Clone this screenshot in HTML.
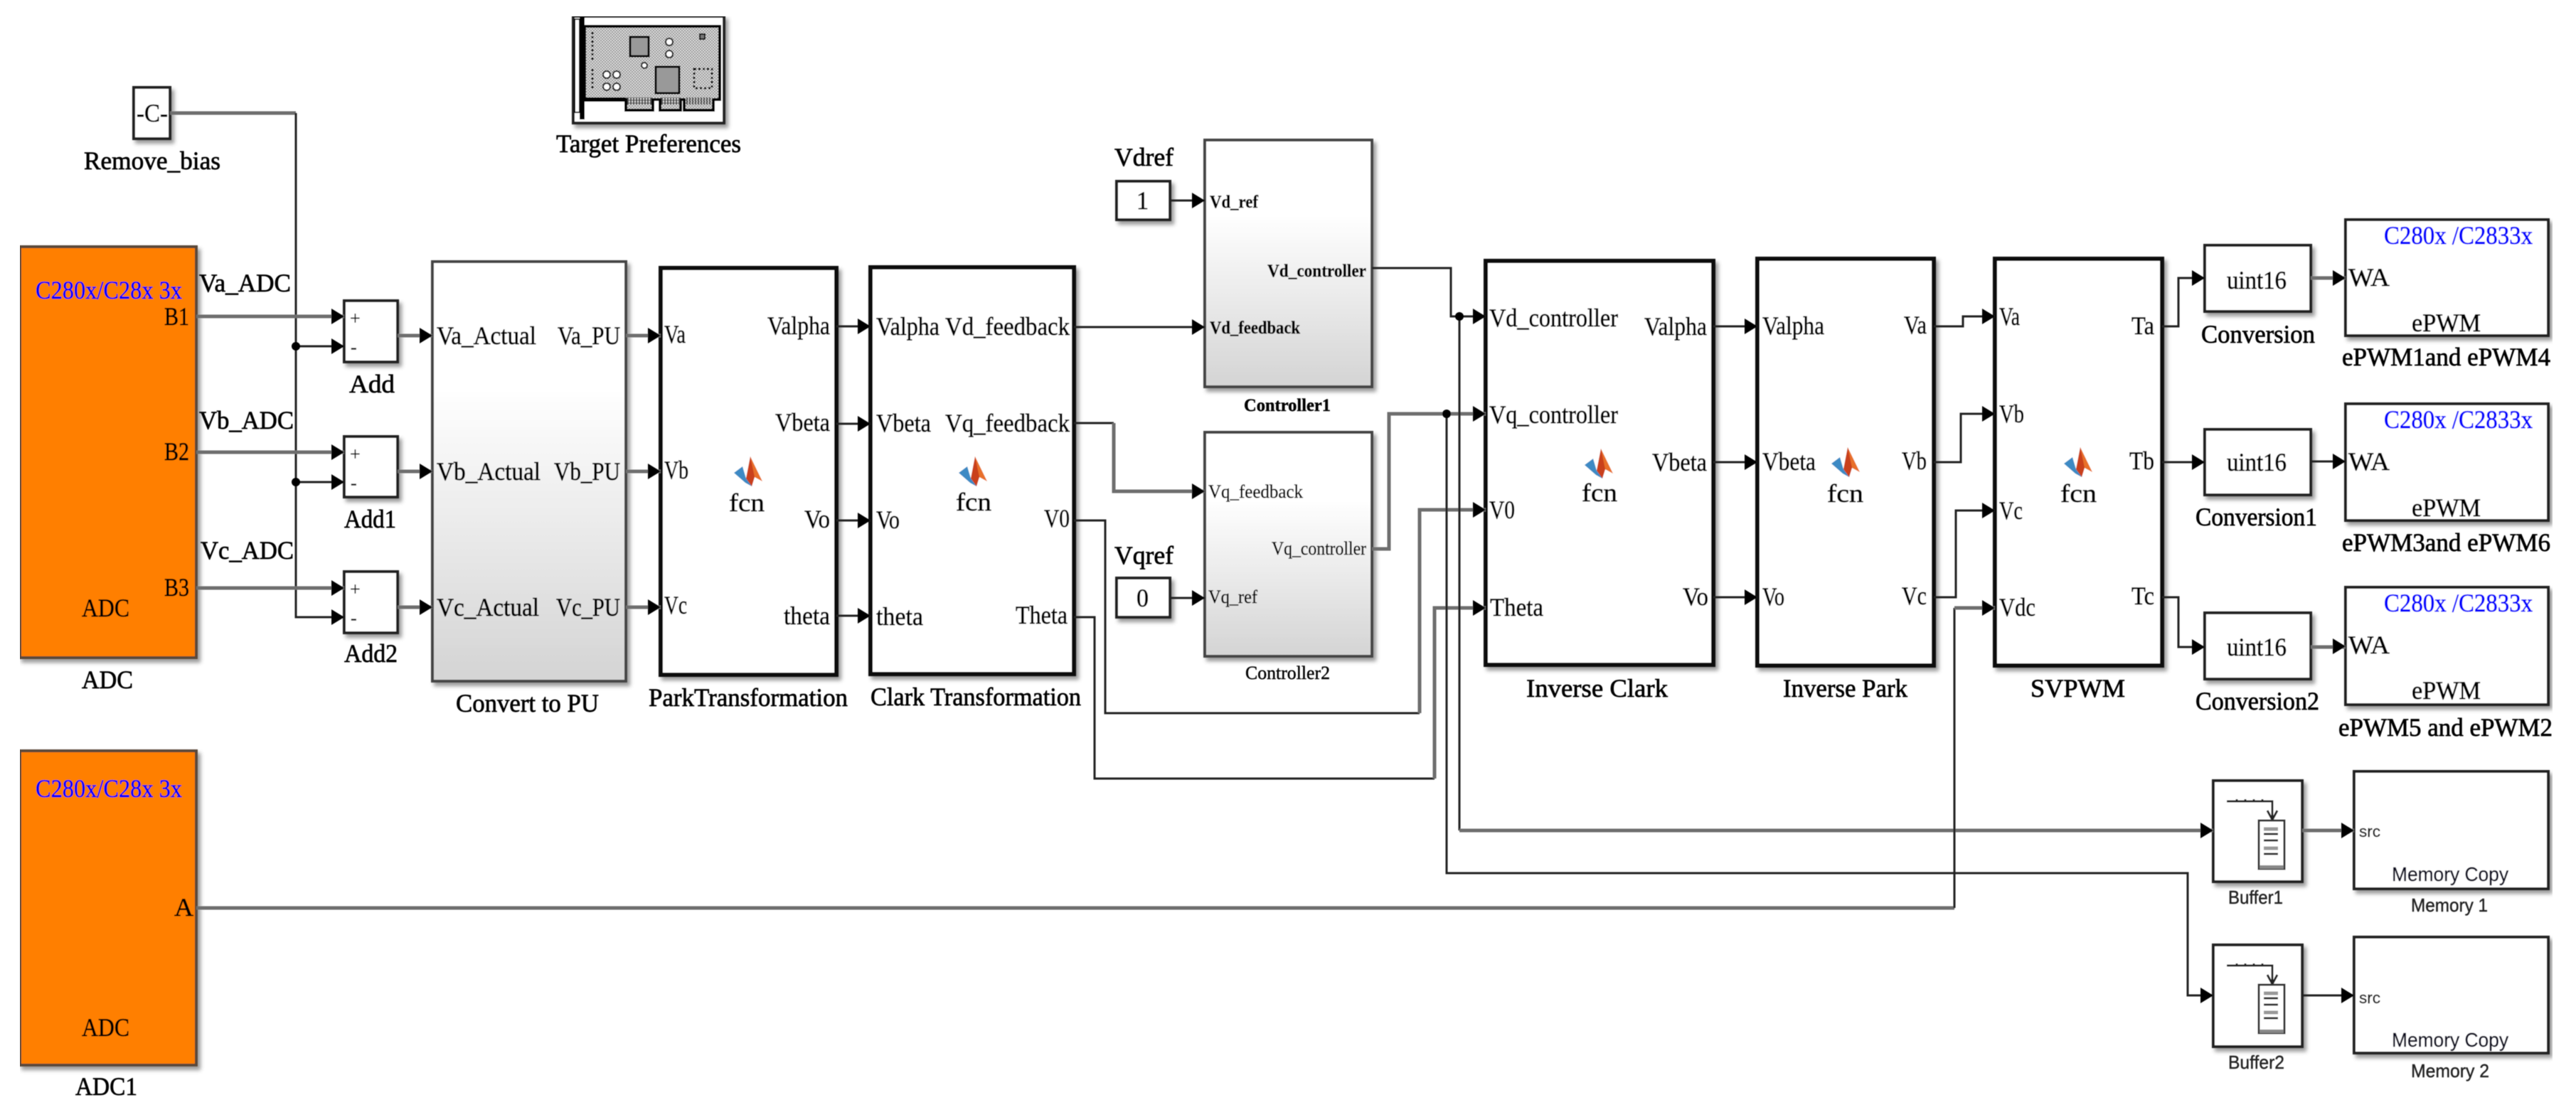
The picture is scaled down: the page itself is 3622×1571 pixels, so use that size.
<!DOCTYPE html>
<html><head><meta charset="utf-8"><style>
html,body{margin:0;padding:0;background:#fff}
svg{display:block}
text{font-family:"Liberation Serif",serif;font-size:36px;fill:#000;stroke:#000;stroke-width:.7px}
.b{fill:#0000ff;stroke:#0000ff}
.s{font-size:26px;stroke-width:.4px}
.sb{font-size:25px;font-weight:bold;stroke-width:.4px}
.h{font-family:"Liberation Sans",sans-serif;font-size:26px;fill:#222;stroke:#222;stroke-width:.4px}
.m{font-family:"Liberation Sans",sans-serif;font-size:28px;fill:#112;stroke:#112;stroke-width:.4px}
.t{fill:none;stroke:#222;stroke-width:3}
.g{fill:none;stroke:#6e6e6e;stroke-width:5}
.w{fill:#fff;stroke:#222;stroke-width:4}
.k{fill:#fff;stroke:#111;stroke-width:6}
.o{fill:#ff7f00;stroke:#5a4a3a;stroke-width:4}
.c{fill:url(#grad);stroke:#444;stroke-width:4}
</style></head><body>
<svg xmlns="http://www.w3.org/2000/svg" width="3622" height="1571" viewBox="0 0 3622 1571">
<defs>
<linearGradient id="grad" x1="0" y1="0" x2="0" y2="1"><stop offset="0" stop-color="#fff"/><stop offset=".3" stop-color="#fff"/><stop offset="1" stop-color="#d4d4d4"/></linearGradient>
<filter id="sh" x="-10%" y="-10%" width="125%" height="125%"><feDropShadow dx="4" dy="5" stdDeviation="3" flood-color="#000" flood-opacity=".4"/></filter>
<filter id="bl" x="0" y="0" width="100%" height="100%"><feGaussianBlur stdDeviation="0.6"/></filter>
<pattern id="chk" width="4" height="4" patternUnits="userSpaceOnUse"><rect width="4" height="4" fill="#e4e4e4"/><rect width="2" height="2" fill="#8c8c8c"/><rect x="2" y="2" width="2" height="2" fill="#8c8c8c"/></pattern>
<path id="a" d="M-18,-11 L0,0 L-18,11 Z" fill="#000"/>
<g id="ml"><path d="M3,-21 L20,14 L9,8 L5,21 L-3,10 Z" fill="#e8702a"/><path d="M3,-21 L-3,10 L5,21 L9,8 Z" fill="#c9401f"/><path d="M-20,2 L-8,-7 L-3,10 L5,21 L-4,16 Z" fill="#3d8ac4"/></g>
<g id="buf"><path d="M3131,1127H3195V1153" class="t"/><path d="M3188,1140L3195,1153L3202,1140" class="t" stroke-width="2"/><path d="M3145,1124v3M3157,1124v3M3169,1124v3M3181,1124v3" class="t"/><rect x="3176" y="1154" width="36" height="68" fill="#fff" stroke="#333" stroke-width="3"/><rect x="3177" y="1217" width="34" height="5" fill="#888"/><path d="M3183,1166H3203" stroke="#999" stroke-width="5"/><path d="M3183,1173H3203M3183,1182H3203" stroke="#333" stroke-width="3"/><path d="M3183,1193H3203" stroke="#999" stroke-width="5"/><path d="M3183,1201H3203" stroke="#333" stroke-width="3"/></g>
</defs>
<rect width="3622" height="1571" fill="#fff"/>
<g filter="url(#bl)">
<g filter="url(#sh)">
<rect class="w" x="188" y="123" width="51" height="72"/>
<rect class="w" x="806" y="23" width="212" height="150"/>
<rect class="o" x="28" y="347" width="248" height="578"/>
<rect class="o" x="28" y="1056" width="248" height="442"/>
<rect class="w" x="484" y="423" width="75" height="86"/>
<rect class="w" x="484" y="614" width="75" height="85"/>
<rect class="w" x="484" y="804" width="75" height="86"/>
<rect class="c" x="608" y="368" width="272" height="590"/>
<rect class="k" x="929" y="377" width="247" height="572"/>
<rect class="k" x="1224" y="376" width="286" height="572"/>
<rect class="w" x="1570" y="255" width="75" height="54"/>
<rect class="w" x="1570" y="813" width="75" height="55"/>
<rect class="c" x="1694" y="197" width="235" height="347"/>
<rect class="c" x="1694" y="608" width="235" height="315"/>
<rect class="k" x="2089" y="367" width="320" height="568"/>
<rect class="k" x="2471" y="364" width="248" height="572"/>
<rect class="k" x="2805" y="364" width="235" height="572"/>
<rect class="w" x="3100" y="345" width="149" height="93"/>
<rect class="w" x="3100" y="604" width="149" height="92"/>
<rect class="w" x="3100" y="862" width="149" height="93"/>
<rect class="w" x="3298" y="309" width="285" height="163"/>
<rect class="w" x="3298" y="568" width="285" height="164"/>
<rect class="w" x="3298" y="826" width="285" height="165"/>
<rect class="w" x="3112" y="1098" width="125" height="142"/>
<rect class="w" x="3112" y="1329" width="125" height="143"/>
<rect class="w" x="3310" y="1085" width="273" height="165"/>
<rect class="w" x="3310" y="1318" width="273" height="163"/>
</g>

<!-- target card -->
<path d="M815,24H822V168H815Z" fill="#000"/>
<path d="M808,27H815V158H808Z" fill="#fff" stroke="#000" stroke-width="2"/>
<path d="M822,37H1012V140L1003,140V155H962V140H957V155H928V140H918V155H880V140H822Z" fill="url(#chk)" stroke="#000" stroke-width="4"/>
<path d="M822,140H880" stroke="#000" stroke-width="6"/>
<rect x="886" y="52" width="26" height="27" fill="#999" stroke="#000" stroke-width="3"/>
<rect x="922" y="94" width="33" height="37" fill="#999" stroke="#000" stroke-width="3"/>
<circle cx="941" cy="59" r="5" fill="#fff" stroke="#000" stroke-width="2"/><circle cx="941" cy="76" r="5" fill="#fff" stroke="#000" stroke-width="2"/>
<circle cx="906" cy="92" r="4" fill="#fff" stroke="#000" stroke-width="2"/>
<rect x="984" y="48" width="7" height="7" fill="#777" stroke="#000" stroke-width="2"/>
<circle cx="853" cy="105" r="5" fill="#fff" stroke="#000" stroke-width="2"/><circle cx="867" cy="105" r="5" fill="#fff" stroke="#000" stroke-width="2"/><circle cx="853" cy="122" r="5" fill="#fff" stroke="#000" stroke-width="2"/><circle cx="867" cy="122" r="5" fill="#fff" stroke="#000" stroke-width="2"/>
<rect x="976" y="97" width="25" height="27" fill="none" stroke="#000" stroke-width="3" stroke-dasharray="3 3"/>
<path d="M833,45V85M833,97V124" stroke="#000" stroke-width="3" stroke-dasharray="3 3" fill="none"/>
<path d="M882,142h36M930,142h26M965,142h36" stroke="#444" stroke-width="10" stroke-dasharray="2 2" fill="none"/>

<!-- connectors -->
<path class="g" d="M239,159H416"/>
<path class="t" d="M416,159V868H484M416,487H484M416,678H484"/>
<path class="g" d="M276,445H484M276,636H484M276,827H484"/>
<path class="g" d="M559,472H608M559,663H608M559,854H608M880,472H929M880,663H929M880,854H929"/>
<path class="t" d="M1176,459H1224M1176,596H1224M1176,732H1224M1176,866H1224"/>
<path class="t" d="M1510,460H1694M1510,595H1566"/>
<path class="g" d="M1566,595V691H1694" stroke-width="4"/>
<path class="t" d="M1510,732H1554V1003H1996"/>
<path class="g" d="M1996,1003V717H2089" stroke-width="4"/>
<path class="t" d="M1510,868H1539V1095H2017"/>
<path class="g" d="M2017,1095V855H2089" stroke-width="4"/>
<path class="t" d="M1645,282H1694M1645,841H1694"/>
<path class="t" d="M1929,377H2040V445H2089"/>
<path class="g" d="M1929,772H1953V582H2089" stroke-width="4"/>
<path class="t" d="M2052,445V1168M2034,582V1228H3076V1400H3112"/>
<path class="g" d="M2052,1168H3112M3237,1168H3310" stroke-width="5"/>
<path class="t" d="M3237,1400H3310"/>
<path class="g" d="M276,1277H2748"/>
<path class="t" d="M2748,1277V855"/><path class="g" d="M2748,855H2805" stroke-width="4"/>
<path class="t" d="M2409,459H2471M2409,650H2471M2409,840H2471"/>
<path class="t" d="M2719,459H2760V445H2805M2719,650H2757V582H2805M2719,840H2750V718H2805"/>
<path class="t" d="M3040,459H3063V391H3100M3040,650H3100M3040,840H3063V910H3100"/>
<path class="g" d="M3249,391H3298M3249,910H3298" stroke-width="4"/><path class="t" d="M3249,649H3298"/>
<circle cx="416" cy="487" r="6"/><circle cx="416" cy="678" r="6"/><circle cx="2052" cy="445" r="6"/><circle cx="2034" cy="582" r="6"/>

<!-- arrowheads -->
<use href="#a" x="484" y="445"/><use href="#a" x="484" y="487"/><use href="#a" x="484" y="636"/><use href="#a" x="484" y="678"/><use href="#a" x="484" y="827"/><use href="#a" x="484" y="868"/>
<use href="#a" x="608" y="472"/><use href="#a" x="608" y="663"/><use href="#a" x="608" y="854"/>
<use href="#a" x="929" y="472"/><use href="#a" x="929" y="663"/><use href="#a" x="929" y="854"/>
<use href="#a" x="1224" y="459"/><use href="#a" x="1224" y="596"/><use href="#a" x="1224" y="732"/><use href="#a" x="1224" y="866"/>
<use href="#a" x="1694" y="282"/><use href="#a" x="1694" y="460"/><use href="#a" x="1694" y="691"/><use href="#a" x="1694" y="841"/>
<use href="#a" x="2089" y="445"/><use href="#a" x="2089" y="582"/><use href="#a" x="2089" y="717"/><use href="#a" x="2089" y="855"/>
<use href="#a" x="2471" y="459"/><use href="#a" x="2471" y="650"/><use href="#a" x="2471" y="840"/>
<use href="#a" x="2805" y="445"/><use href="#a" x="2805" y="582"/><use href="#a" x="2805" y="718"/><use href="#a" x="2805" y="855"/>
<use href="#a" x="3100" y="391"/><use href="#a" x="3100" y="650"/><use href="#a" x="3100" y="910"/>
<use href="#a" x="3298" y="391"/><use href="#a" x="3298" y="649"/><use href="#a" x="3298" y="909"/>
<use href="#a" x="3112" y="1168"/><use href="#a" x="3112" y="1400"/><use href="#a" x="3310" y="1168"/><use href="#a" x="3310" y="1400"/>

<!-- matlab icons -->
<use href="#ml" x="1052" y="663"/><use href="#ml" x="1368" y="663"/><use href="#ml" x="2248" y="652"/><use href="#ml" x="2595" y="650"/><use href="#ml" x="2922" y="650"/>
<!-- buffer icons -->
<use href="#buf"/><use href="#buf" y="231"/>

<!-- text -->
<text x="192" y="171" textLength="44" lengthAdjust="spacingAndGlyphs">-C-</text>
<text x="118" y="238" textLength="192" lengthAdjust="spacingAndGlyphs">Remove_bias</text>
<text x="782" y="214" textLength="260" lengthAdjust="spacingAndGlyphs">Target Preferences</text>
<text class="b" x="50" y="420" textLength="206" lengthAdjust="spacingAndGlyphs">C280x/C28x 3x</text>
<text x="231" y="457" textLength="35" lengthAdjust="spacingAndGlyphs">B1</text>
<text x="231" y="647" textLength="35" lengthAdjust="spacingAndGlyphs">B2</text>
<text x="231" y="838" textLength="35" lengthAdjust="spacingAndGlyphs">B3</text>
<text x="115" y="867" textLength="67" lengthAdjust="spacingAndGlyphs">ADC</text>
<text x="115" y="968" textLength="72" lengthAdjust="spacingAndGlyphs">ADC</text>
<text class="b" x="50" y="1121" textLength="206" lengthAdjust="spacingAndGlyphs">C280x/C28x 3x</text>
<text x="245" y="1288" textLength="27" lengthAdjust="spacingAndGlyphs">A</text>
<text x="115" y="1457" textLength="67" lengthAdjust="spacingAndGlyphs">ADC</text>
<text x="106" y="1540" textLength="87" lengthAdjust="spacingAndGlyphs">ADC1</text>
<text x="280" y="410" textLength="129" lengthAdjust="spacingAndGlyphs">Va_ADC</text>
<text x="280" y="603" textLength="133" lengthAdjust="spacingAndGlyphs">Vb_ADC</text>
<text x="282" y="786" textLength="131" lengthAdjust="spacingAndGlyphs">Vc_ADC</text>
<text class="s" x="492" y="456">+</text><text class="s" x="493" y="497">-</text>
<text class="s" x="492" y="647">+</text><text class="s" x="493" y="688">-</text>
<text class="s" x="492" y="837">+</text><text class="s" x="493" y="878">-</text>
<text x="491" y="552" textLength="64" lengthAdjust="spacingAndGlyphs">Add</text>
<text x="484" y="742" textLength="73" lengthAdjust="spacingAndGlyphs">Add1</text>
<text x="484" y="931" textLength="75" lengthAdjust="spacingAndGlyphs">Add2</text>
<text x="614" y="484" textLength="140" lengthAdjust="spacingAndGlyphs">Va_Actual</text>
<text x="614" y="675" textLength="146" lengthAdjust="spacingAndGlyphs">Vb_Actual</text>
<text x="614" y="866" textLength="144" lengthAdjust="spacingAndGlyphs">Vc_Actual</text>
<text x="784" y="484" textLength="88" lengthAdjust="spacingAndGlyphs">Va_PU</text>
<text x="779" y="675" textLength="93" lengthAdjust="spacingAndGlyphs">Vb_PU</text>
<text x="782" y="866" textLength="90" lengthAdjust="spacingAndGlyphs">Vc_PU</text>
<text x="641" y="1001" textLength="201" lengthAdjust="spacingAndGlyphs">Convert to PU</text>
<text x="934" y="482" textLength="30" lengthAdjust="spacingAndGlyphs">Va</text>
<text x="934" y="673" textLength="34" lengthAdjust="spacingAndGlyphs">Vb</text>
<text x="934" y="863" textLength="32" lengthAdjust="spacingAndGlyphs">Vc</text>
<text x="1079" y="470" textLength="88" lengthAdjust="spacingAndGlyphs">Valpha</text>
<text x="1090" y="606" textLength="77" lengthAdjust="spacingAndGlyphs">Vbeta</text>
<text x="1131" y="742" textLength="36" lengthAdjust="spacingAndGlyphs">Vo</text>
<text x="1102" y="878" textLength="65" lengthAdjust="spacingAndGlyphs">theta</text>
<text x="1025" y="719" textLength="50" lengthAdjust="spacingAndGlyphs">fcn</text>
<text x="912" y="993" textLength="280" lengthAdjust="spacingAndGlyphs">ParkTransformation</text>
<text x="1232" y="471" textLength="89" lengthAdjust="spacingAndGlyphs">Valpha</text>
<text x="1232" y="607" textLength="77" lengthAdjust="spacingAndGlyphs">Vbeta</text>
<text x="1232" y="743" textLength="33" lengthAdjust="spacingAndGlyphs">Vo</text>
<text x="1232" y="879" textLength="66" lengthAdjust="spacingAndGlyphs">theta</text>
<text x="1329" y="471" textLength="175" lengthAdjust="spacingAndGlyphs">Vd_feedback</text>
<text x="1329" y="607" textLength="175" lengthAdjust="spacingAndGlyphs">Vq_feedback</text>
<text x="1468" y="741" textLength="36" lengthAdjust="spacingAndGlyphs">V0</text>
<text x="1428" y="877" textLength="73" lengthAdjust="spacingAndGlyphs">Theta</text>
<text x="1344" y="718" textLength="50" lengthAdjust="spacingAndGlyphs">fcn</text>
<text x="1224" y="992" textLength="296" lengthAdjust="spacingAndGlyphs">Clark Transformation</text>
<text x="1567" y="233" textLength="83" lengthAdjust="spacingAndGlyphs">Vdref</text>
<text x="1598" y="294" textLength="17" lengthAdjust="spacingAndGlyphs">1</text>
<text x="1567" y="793" textLength="83" lengthAdjust="spacingAndGlyphs">Vqref</text>
<text x="1598" y="853" textLength="17" lengthAdjust="spacingAndGlyphs">0</text>
<text class="sb" x="1701" y="292" textLength="68" lengthAdjust="spacingAndGlyphs">Vd_ref</text>
<text class="sb" x="1701" y="469" textLength="127" lengthAdjust="spacingAndGlyphs">Vd_feedback</text>
<text class="sb" x="1782" y="389" textLength="139" lengthAdjust="spacingAndGlyphs">Vd_controller</text>
<text class="sb" x="1749" y="578" textLength="122" lengthAdjust="spacingAndGlyphs">Controller1</text>
<text class="s" x="1699" y="700" textLength="133" lengthAdjust="spacingAndGlyphs">Vq_feedback</text>
<text class="s" x="1699" y="848" textLength="69" lengthAdjust="spacingAndGlyphs">Vq_ref</text>
<text class="s" x="1788" y="780" textLength="133" lengthAdjust="spacingAndGlyphs">Vq_controller</text>
<text class="s" x="1751" y="955" textLength="119" lengthAdjust="spacingAndGlyphs">Controller2</text>
<text x="2094" y="459" textLength="181" lengthAdjust="spacingAndGlyphs">Vd_controller</text>
<text x="2094" y="595" textLength="181" lengthAdjust="spacingAndGlyphs">Vq_controller</text>
<text x="2094" y="729" textLength="36" lengthAdjust="spacingAndGlyphs">V0</text>
<text x="2095" y="866" textLength="75" lengthAdjust="spacingAndGlyphs">Theta</text>
<text x="2312" y="471" textLength="88" lengthAdjust="spacingAndGlyphs">Valpha</text>
<text x="2323" y="662" textLength="77" lengthAdjust="spacingAndGlyphs">Vbeta</text>
<text x="2366" y="851" textLength="36" lengthAdjust="spacingAndGlyphs">Vo</text>
<text x="2224" y="705" textLength="50" lengthAdjust="spacingAndGlyphs">fcn</text>
<text x="2146" y="980" textLength="199" lengthAdjust="spacingAndGlyphs">Inverse Clark</text>
<text x="2478" y="470" textLength="87" lengthAdjust="spacingAndGlyphs">Valpha</text>
<text x="2478" y="661" textLength="75" lengthAdjust="spacingAndGlyphs">Vbeta</text>
<text x="2478" y="851" textLength="31" lengthAdjust="spacingAndGlyphs">Vo</text>
<text x="2677" y="469" textLength="32" lengthAdjust="spacingAndGlyphs">Va</text>
<text x="2674" y="660" textLength="35" lengthAdjust="spacingAndGlyphs">Vb</text>
<text x="2674" y="850" textLength="35" lengthAdjust="spacingAndGlyphs">Vc</text>
<text x="2569" y="706" textLength="51" lengthAdjust="spacingAndGlyphs">fcn</text>
<text x="2507" y="980" textLength="175" lengthAdjust="spacingAndGlyphs">Inverse Park</text>
<text x="2811" y="457" textLength="29" lengthAdjust="spacingAndGlyphs">Va</text>
<text x="2811" y="594" textLength="35" lengthAdjust="spacingAndGlyphs">Vb</text>
<text x="2811" y="730" textLength="33" lengthAdjust="spacingAndGlyphs">Vc</text>
<text x="2811" y="866" textLength="51" lengthAdjust="spacingAndGlyphs">Vdc</text>
<text x="2997" y="470" textLength="32" lengthAdjust="spacingAndGlyphs">Ta</text>
<text x="2994" y="660" textLength="35" lengthAdjust="spacingAndGlyphs">Tb</text>
<text x="2997" y="850" textLength="32" lengthAdjust="spacingAndGlyphs">Tc</text>
<text x="2897" y="706" textLength="51" lengthAdjust="spacingAndGlyphs">fcn</text>
<text x="2855" y="980" textLength="133" lengthAdjust="spacingAndGlyphs">SVPWM</text>
<text x="3131" y="406" textLength="84" lengthAdjust="spacingAndGlyphs">uint16</text>
<text x="3131" y="662" textLength="84" lengthAdjust="spacingAndGlyphs">uint16</text>
<text x="3131" y="922" textLength="84" lengthAdjust="spacingAndGlyphs">uint16</text>
<text x="3095" y="482" textLength="160" lengthAdjust="spacingAndGlyphs">Conversion</text>
<text x="3087" y="739" textLength="171" lengthAdjust="spacingAndGlyphs">Conversion1</text>
<text x="3087" y="998" textLength="174" lengthAdjust="spacingAndGlyphs">Conversion2</text>
<text class="b" x="3352" y="343" textLength="209" lengthAdjust="spacingAndGlyphs">C280x /C2833x</text>
<text class="b" x="3352" y="602" textLength="209" lengthAdjust="spacingAndGlyphs">C280x /C2833x</text>
<text class="b" x="3352" y="860" textLength="209" lengthAdjust="spacingAndGlyphs">C280x /C2833x</text>
<text x="3302" y="402" textLength="58" lengthAdjust="spacingAndGlyphs">WA</text>
<text x="3302" y="661" textLength="58" lengthAdjust="spacingAndGlyphs">WA</text>
<text x="3302" y="919" textLength="58" lengthAdjust="spacingAndGlyphs">WA</text>
<text x="3391" y="466" textLength="97" lengthAdjust="spacingAndGlyphs">ePWM</text>
<text x="3391" y="726" textLength="97" lengthAdjust="spacingAndGlyphs">ePWM</text>
<text x="3391" y="983" textLength="97" lengthAdjust="spacingAndGlyphs">ePWM</text>
<text x="3293" y="514" textLength="293" lengthAdjust="spacingAndGlyphs">ePWM1and ePWM4</text>
<text x="3293" y="775" textLength="293" lengthAdjust="spacingAndGlyphs">ePWM3and ePWM6</text>
<text x="3288" y="1035" textLength="301" lengthAdjust="spacingAndGlyphs">ePWM5 and ePWM2</text>
<text class="h" x="3133" y="1271" textLength="77" lengthAdjust="spacingAndGlyphs">Buffer1</text>
<text class="h" x="3133" y="1503" textLength="79" lengthAdjust="spacingAndGlyphs">Buffer2</text>
<text class="h" x="3317" y="1177" style="font-size:22px" textLength="30" lengthAdjust="spacingAndGlyphs">src</text>
<text class="h" x="3317" y="1411" style="font-size:22px" textLength="30" lengthAdjust="spacingAndGlyphs">src</text>
<text class="m" x="3363" y="1239" textLength="164" lengthAdjust="spacingAndGlyphs">Memory Copy</text>
<text class="m" x="3363" y="1472" textLength="164" lengthAdjust="spacingAndGlyphs">Memory Copy</text>
<text class="h" x="3390" y="1282" textLength="108" lengthAdjust="spacingAndGlyphs">Memory 1</text>
<text class="h" x="3390" y="1515" textLength="110" lengthAdjust="spacingAndGlyphs">Memory 2</text>
</g>
</svg>
</body></html>
